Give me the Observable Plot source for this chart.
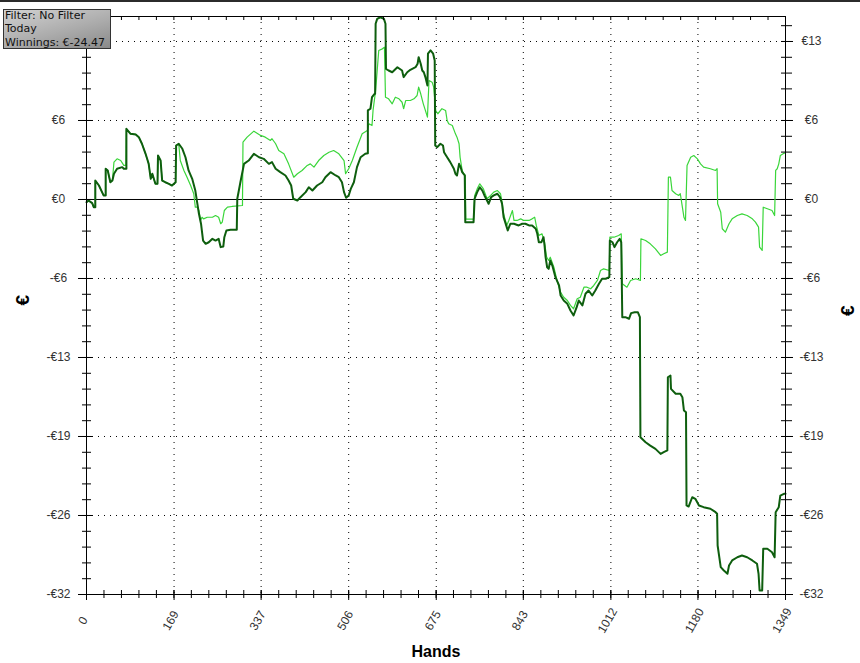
<!DOCTYPE html>
<html><head><meta charset="utf-8">
<script src="https://cdn.jsdelivr.net/npm/d3@7"></script>
<script src="https://cdn.jsdelivr.net/npm/@observablehq/plot@0.6"></script>
<style>
html,body{margin:0;padding:0;background:#fff;}
#wrap{position:relative;width:860px;height:663px;overflow:hidden;background:#fff;}
#topbar{position:absolute;left:0;top:0;width:860px;height:2px;background:#2b2b2b;}
#legend{position:absolute;left:3px;top:9px;width:108px;height:40px;box-sizing:border-box;border:1px solid #333;
  background:linear-gradient(165deg,#d2d2d2 0%,#acacac 55%,#8a8a8a 100%);
  font-family:"DejaVu Sans";font-size:11px;color:#111;line-height:13.3px;padding:0 0 0 1px;white-space:nowrap;overflow:hidden;}
#legend .in{margin-top:-1px;}
</style></head>
<body>
<div id="wrap">
  <div id="chart"></div>
  <div id="topbar"></div>
  <div id="legend"><div class="in"><div>Filter: No Filter</div><div>Today</div><div>Winnings: €-24.47</div></div></div>
</div>
<script>
// Dark series (bold dark green): hands vs cumulative €
const darkHands = [0,4,11,14,17,17,24,30,33,37,37,41,46,50,53,59,69,72,77,77,85,95,101,107,114,117,120,124,127,131,133,137,138,143,146,152,159,165,172,173,178,185,191,197,204,210,217,221,225,230,236,243,249,255,259,264,266,270,278,290,291,297,304,313,323,333,342,352,358,365,374,384,390,395,399,407,413,423,429,436,445,455,461,471,481,487,493,497,501,506,510,516,522,529,538,543,543,548,551,556,557,558,561,567,574,577,578,583,590,600,609,612,619,625,635,639,641,645,648,651,654,658,659,664,669,672,673,677,683,688,690,696,702,709,712,715,719,722,725,730,731,747,749,754,759,764,768,773,776,781,786,793,798,802,805,811,813,818,825,834,841,847,854,860,867,870,873,878,882,884,886,889,892,895,899,905,912,915,921,928,934,940,946,950,957,963,969,976,982,989,995,1002,1009,1010,1015,1019,1024,1029,1032,1034,1040,1047,1051,1058,1064,1068,1069,1079,1088,1098,1108,1114,1121,1122,1127,1128,1137,1146,1150,1153,1157,1158,1162,1169,1175,1182,1191,1204,1214,1217,1218,1224,1230,1237,1240,1246,1256,1265,1275,1285,1294,1297,1299,1304,1306,1314,1323,1328,1330,1336,1339,1346,1349];
const darkEuros = [-0.22,-0.08,-0.30,-0.63,-0.63,1.55,1.14,0.60,0.33,0.33,2.51,2.37,1.41,1.55,2.10,2.51,2.64,2.51,2.51,5.77,5.36,5.31,5.09,4.55,3.73,3.32,2.91,1.69,2.10,1.55,1.28,1.28,3.59,3.18,1.55,1.41,1.28,1.14,1.41,4.41,4.55,4.14,3.45,2.37,1.69,0.73,-1.17,-1.98,-3.35,-3.62,-3.49,-3.21,-3.35,-3.21,-3.89,-3.84,-3.08,-2.53,-2.47,-2.47,0.06,1.41,2.91,3.18,3.73,3.45,3.32,2.91,3.05,2.51,2.23,1.96,1.55,1.14,0.06,-0.08,0.19,0.60,1.00,0.73,1.14,1.41,1.82,2.23,1.96,1.82,1.41,0.60,0.14,0.33,0.87,1.41,2.64,3.45,3.73,3.78,7.27,7.41,8.35,8.63,8.63,14.35,14.75,14.88,14.75,14.35,10.67,10.53,10.39,10.80,10.53,9.99,10.39,10.59,10.80,11.08,11.62,11.08,10.53,10.39,9.99,9.31,11.90,12.17,11.90,11.35,4.41,4.27,4.55,4.41,3.86,3.45,3.05,2.51,2.10,1.96,2.91,2.64,2.23,1.96,-1.85,-1.85,0.06,0.60,1.00,0.73,0.33,-0.08,-0.35,0.19,0.33,0.47,0.19,-0.35,-1.45,-2.26,-2.53,-1.98,-1.98,-2.12,-1.98,-1.98,-2.12,-2.12,-2.39,-2.80,-3.49,-3.49,-3.08,-3.76,-4.71,-5.53,-5.66,-4.98,-5.39,-6.34,-7.02,-7.84,-8.25,-8.52,-9.06,-9.47,-8.79,-8.25,-8.65,-7.70,-7.43,-7.84,-7.43,-6.88,-6.47,-6.47,-6.34,-3.35,-3.49,-3.89,-3.49,-3.21,-3.49,-9.61,-9.61,-9.74,-9.28,-9.20,-9.20,-9.61,-19.41,-19.82,-20.09,-20.36,-20.77,-20.63,-20.49,-14.51,-14.37,-15.46,-15.86,-15.86,-16.14,-17.23,-17.37,-24.98,-25.07,-24.31,-24.44,-24.98,-25.12,-25.25,-25.53,-25.66,-28.25,-30.02,-30.29,-30.56,-29.88,-29.47,-29.21,-29.07,-29.21,-29.47,-29.74,-30.56,-31.92,-31.92,-28.52,-28.52,-28.80,-29.21,-25.53,-25.12,-24.17,-24.03,-24.03];

// Light series (thin bright green)
const lightHands = [0,4,11,14,17,17,24,30,33,37,37,41,46,50,53,59,66,72,76,77,85,95,101,107,114,117,120,124,127,131,133,137,138,143,146,152,159,165,172,173,178,181,188,194,201,207,210,214,217,220,223,226,233,243,249,255,259,262,266,272,281,301,302,310,323,336,345,355,358,365,371,381,390,400,407,416,426,432,439,448,458,468,477,487,497,500,506,513,522,532,542,545,551,553,558,564,571,575,577,583,590,596,603,609,612,616,625,632,638,641,645,650,654,658,661,667,670,674,678,686,693,696,699,706,712,715,719,721,725,728,731,732,747,749,754,759,766,773,780,786,793,799,802,805,811,815,822,825,831,838,844,854,860,865,868,873,879,884,888,892,895,902,908,915,921,928,934,940,947,953,960,966,973,979,986,992,998,1009,1010,1018,1027,1032,1034,1043,1050,1060,1069,1070,1079,1088,1098,1108,1114,1121,1123,1127,1130,1137,1143,1146,1150,1153,1156,1159,1166,1172,1179,1185,1191,1204,1214,1217,1218,1224,1227,1233,1240,1246,1256,1265,1275,1285,1291,1297,1299,1304,1306,1314,1323,1328,1330,1333,1336,1339,1346,1349];
const lightEuros = [-0.22,-0.08,-0.30,-0.63,-0.63,1.55,1.14,0.60,0.33,0.33,2.51,2.37,1.41,1.55,3.05,3.32,3.18,2.78,2.78,5.77,5.36,5.31,5.09,4.55,3.73,3.32,2.91,1.69,2.10,1.55,1.28,1.28,3.59,3.18,1.55,1.41,1.28,1.14,1.41,4.41,4.55,3.18,2.37,1.82,1.14,0.47,-0.63,-0.63,-0.90,-1.71,-1.45,-1.58,-1.45,-1.45,-1.31,-1.45,-1.98,-1.85,-0.90,-0.63,-0.57,-0.49,4.68,5.09,5.58,5.23,5.09,4.82,4.96,4.55,4.00,3.73,2.91,1.82,2.10,2.37,2.78,2.91,2.64,3.18,3.59,3.86,4.00,3.73,3.18,2.10,2.51,3.18,4.27,5.36,5.63,6.18,6.04,7.27,8.90,12.17,12.30,12.43,8.35,8.22,7.81,8.35,8.22,7.94,7.41,8.08,8.08,8.22,8.49,9.17,8.63,7.81,7.27,6.72,9.72,9.58,9.17,7.27,7.00,7.41,7.27,6.45,6.18,6.04,5.36,5.09,4.55,3.45,2.37,2.10,1.96,-1.60,-1.60,0.30,0.87,1.28,0.87,0.06,0.33,0.60,0.73,0.47,-0.22,-1.17,-2.12,-1.71,-0.90,-1.71,-1.71,-1.58,-1.71,-1.71,-1.58,-1.45,-2.12,-2.94,-2.80,-3.49,-4.71,-4.98,-4.71,-5.53,-6.61,-7.57,-7.98,-8.25,-8.65,-8.92,-8.11,-7.98,-7.16,-7.16,-7.29,-7.02,-6.61,-5.80,-5.66,-5.80,-3.08,-3.08,-2.94,-2.80,-6.88,-7.16,-6.61,-6.47,-6.61,-3.21,-3.35,-3.62,-4.03,-4.57,-4.43,-4.30,1.82,1.82,0.73,0.47,0.33,0.47,-0.63,-1.45,-1.71,2.78,3.45,3.59,3.32,2.91,2.64,2.51,2.37,2.51,-0.35,-1.04,-2.39,-2.67,-1.98,-1.58,-1.31,-1.17,-1.31,-1.58,-1.85,-2.26,-3.89,-4.16,-0.63,-0.76,-0.90,-1.31,2.37,2.51,2.91,3.59,3.78,3.78];

// Axis ticks
const xTickLabels = ["0","169","337","506","675","843","1012","1180","1349"];
const yTickValues = [12.9, 6.45, 0, -6.45, -12.9, -19.35, -25.8, -32.25];
const yTickLabels = ["€13","€6","€0","-€6","-€13","-€19","-€26","-€32"];

const xMax = 1349, yMin = -32.25, yMax = 14.94;
const xMajor = xTickLabels.map(Number);
const xMinor = d3.range(0, 41).map(i => i * xMax / 40);
const yMinor = d3.range(-25, 12).map(i => i * 1.29);
const xGrid = xMajor.slice(1, -1);
const yGrid = yTickValues.filter(v => v !== 0 && v !== yMin);
// the top-left label sits under the filter box in the reference, so only the visible ones are drawn on the left
const yLeftIdx = yTickValues.map((v, i) => i).filter(i => i > 0);

const dark = darkHands.map((h, i) => ({hand: h, euro: darkEuros[i]}));
const light = lightHands.map((h, i) => ({hand: h, euro: lightEuros[i]}));

const chart = Plot.plot({
  width: 860, height: 663,
  marginLeft: 86, marginRight: 75, marginTop: 16, marginBottom: 69,
  x: {domain: [0, xMax], axis: null},
  y: {domain: [yMin, yMax], axis: null},
  style: {fontFamily: "Liberation Sans", fontSize: "12px", background: "white", overflow: "visible"},
  marks: [
    Plot.ruleY(yGrid, {stroke: "black", strokeDasharray: "1,5"}),
    Plot.ruleX(xGrid, {stroke: "black", strokeDasharray: "1,5"}),
    Plot.ruleY([0], {stroke: "black"}),
    Plot.line(light, {x: "hand", y: "euro", stroke: "#3ad63a", strokeWidth: 1.2}),
    Plot.line(dark, {x: "hand", y: "euro", stroke: "#0e5e0e", strokeWidth: 2}),
    Plot.frame({stroke: "black"}),
    // left ticks
    Plot.ruleY(yMinor, {x1: 0, x2: 0, insetLeft: -4, insetRight: -5, stroke: "black"}),
    Plot.ruleY(yTickValues, {x1: 0, x2: 0, insetLeft: -8, insetRight: -6, stroke: "black"}),
    // right ticks
    Plot.ruleY(yMinor, {x1: xMax, x2: xMax, insetLeft: -4, insetRight: -7, stroke: "black"}),
    Plot.ruleY(yTickValues, {x1: xMax, x2: xMax, insetLeft: -4, insetRight: -8, stroke: "black"}),
    // bottom ticks
    Plot.ruleX(xMinor, {y1: yMin, y2: yMin, insetTop: -4, insetBottom: -4, stroke: "black"}),
    Plot.ruleX(xMajor, {y1: yMin, y2: yMin, insetTop: -4, insetBottom: -6, stroke: "black"}),
    // top ticks
    Plot.ruleX(xMinor, {y1: yMax, y2: yMax, insetBottom: -4, stroke: "black"}),
    // tick labels
    Plot.text(yLeftIdx, {y: i => yTickValues[i], text: i => yTickLabels[i], frameAnchor: "left", dx: -28, textAnchor: "middle", fill: "#333", fontSize: 12}),
    Plot.text(yTickValues, {y: d => d, text: (d, i) => yTickLabels[i], frameAnchor: "right", dx: 26, textAnchor: "middle", fill: "#333", fontSize: 12}),
    Plot.text(xMajor, {x: d => d, text: (d, i) => xTickLabels[i], frameAnchor: "bottom", dy: 28, rotate: -60, textAnchor: "middle", fill: "#333", fontSize: 12}),
    // axis titles
    Plot.text(["€"], {frameAnchor: "left", dx: -64, rotate: -90, fontWeight: "bold", fontSize: 19, fill: "black"}),
    Plot.text(["€"], {frameAnchor: "right", dx: 62, rotate: -90, fontWeight: "bold", fontSize: 19, fill: "black"}),
    Plot.text(["Hands"], {frameAnchor: "bottom", dy: 62, fontWeight: "bold", fontSize: 16, fill: "black"})
  ]
});
document.getElementById("chart").appendChild(chart);
</script>
</body></html>
